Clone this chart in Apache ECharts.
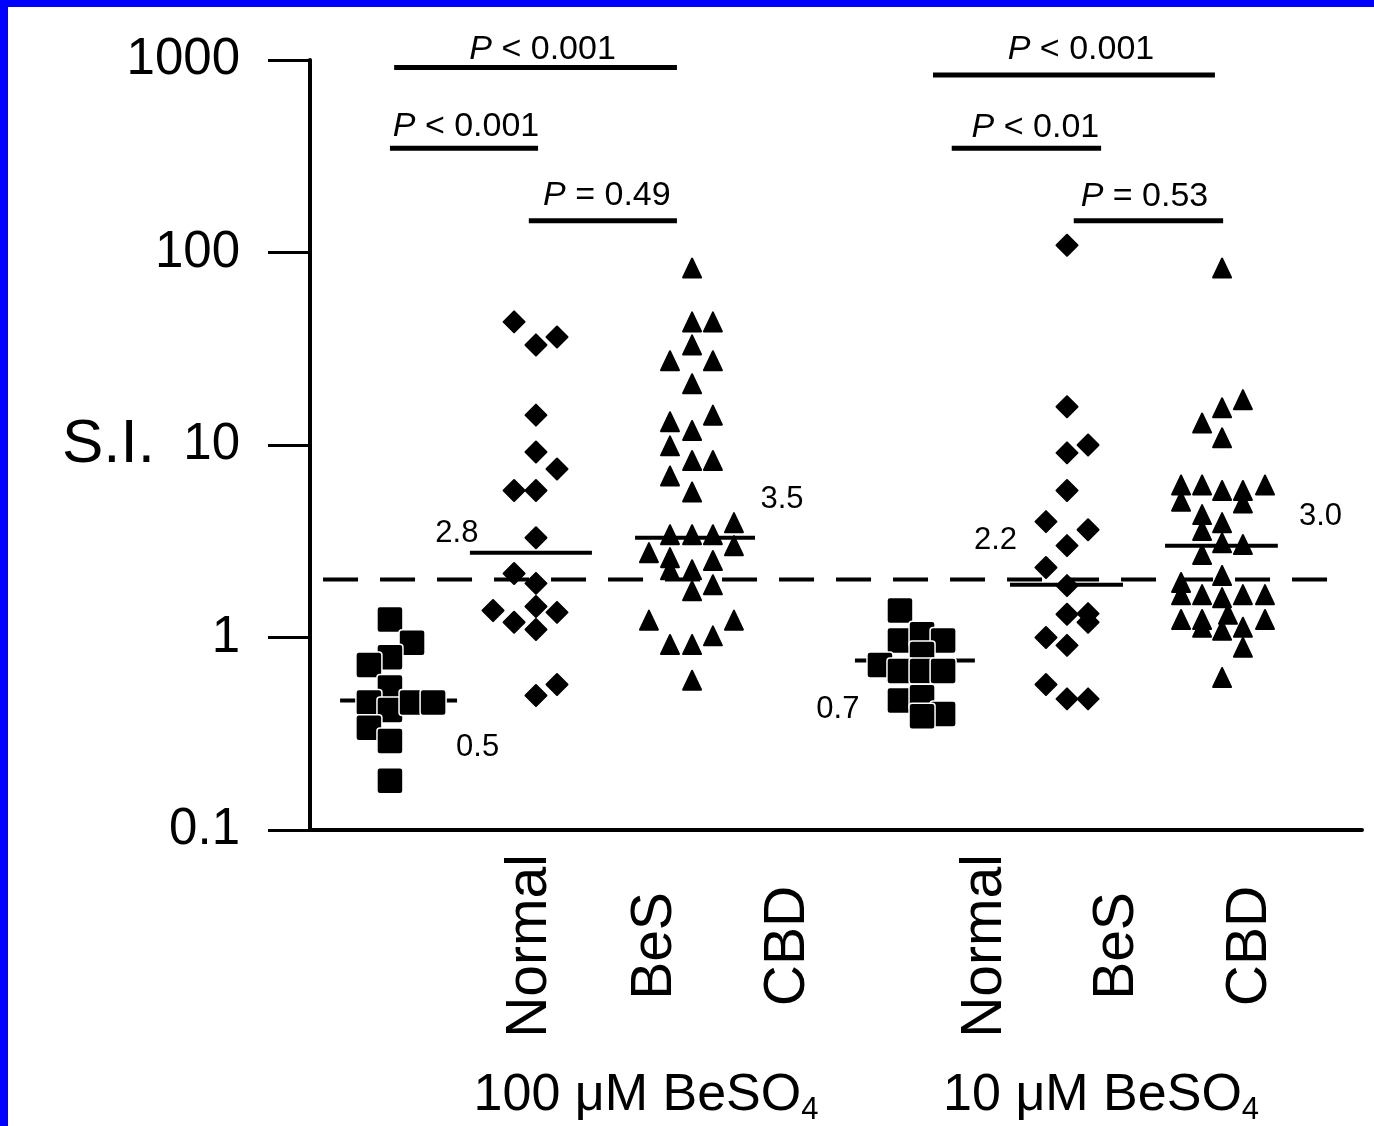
<!DOCTYPE html>
<html><head><meta charset="utf-8">
<script src="https://cdn.jsdelivr.net/npm/echarts@6/dist/echarts.min.js"></script>
<style>
html,body{margin:0;padding:0;background:#0000ff;width:1374px;height:1126px;overflow:hidden}
#c{position:absolute;left:8px;top:7px;width:1366px;height:1119px;background:#fff}
</style></head><body><div id="c"></div><script>
// ---------------- DATA ----------------
const categories = ['Normal', 'BeS', 'CBD', 'Normal', 'BeS', 'CBD'];
const concentrations = ['100 \u03bcM BeSO', '10 \u03bcM BeSO'];
const concentrationSub = '4';
const yTickLabels = ['0.1', '1', '10', '100', '1000'];
const yAxisName = 'S.I.';
const threshold = 2;

// [x jitter position, S.I.]
const normal100 = [[3.8,1.24],[4.85,0.94],[3.8,0.79],[2.8,0.72],[3.8,0.55],[2.8,0.46],[3.8,0.42],[4.85,0.46],[5.85,0.46],[2.8,0.34],[3.8,0.29],[3.8,0.18]];
const bes100 = [[9.7,43.6],[10.74,33.1],[11.74,36.4],[10.74,14.3],[10.74,9.2],[11.74,7.5],[9.7,5.8],[10.74,5.8],[10.74,3.3],[9.7,2.15],[10.74,1.91],[10.74,1.45],[8.7,1.38],[9.7,1.2],[10.74,1.1],[11.74,1.35],[11.74,0.57],[10.74,0.5]];
const cbd100 = [[18.16,83],[18.16,43.6],[19.15,43.6],[18.16,33.1],[17.11,27.4],[19.15,27.4],[18.16,20.8],[19.15,14.3],[17.11,13.2],[18.16,11.9],[17.11,9.9],[18.16,8.3],[19.15,8.3],[17.11,6.9],[18.16,5.7],[20.15,3.95],[17.11,3.42],[18.16,3.42],[19.15,3.42],[20.15,3.0],[16.11,2.76],[17.11,2.6],[19.15,2.51],[17.11,2.25],[18.16,2.25],[19.15,1.88],[18.16,1.75],[16.11,1.23],[20.15,1.23],[17.11,0.92],[18.16,0.92],[19.15,1.02],[18.16,0.6]];
const normal10 = [[28.04,1.38],[28.04,0.965],[29.09,1.04],[30.09,0.965],[29.09,0.82],[27.09,0.72],[28.04,0.67],[29.09,0.67],[30.09,0.67],[28.04,0.47],[29.09,0.49],[30.09,0.4],[29.09,0.39]];
const bes10 = [[35.98,109],[35.98,15.8],[35.98,9.1],[36.98,10.0],[35.98,5.8],[34.98,4.0],[36.98,3.63],[35.98,3.0],[34.98,2.31],[35.98,1.86],[35.98,1.32],[36.98,1.33],[36.98,1.2],[34.98,1.0],[35.98,0.91],[34.98,0.57],[35.98,0.48],[36.98,0.48]];
const cbd10 = [[43.35,83],[44.34,17.2],[43.35,15.6],[42.4,13.0],[43.35,10.9],[41.4,6.2],[42.4,6.2],[43.35,5.8],[44.34,5.8],[45.39,6.2],[41.4,5.1],[44.34,5.0],[42.4,4.35],[43.35,3.95],[42.4,3.6],[43.35,3.11],[44.34,3.04],[42.4,2.7],[43.35,2.1],[41.4,1.93],[41.4,1.67],[42.4,1.67],[43.35,1.61],[44.34,1.67],[45.39,1.67],[41.4,1.24],[42.4,1.24],[42.4,1.13],[43.63,1.32],[44.34,1.13],[45.39,1.24],[43.35,1.09],[44.34,0.89],[43.35,0.62]];

const medians = [0.471, 2.76, 3.30, 0.76, 1.88, 3.00];
const medianLabels = ['0.5', '2.8', '3.5', '0.7', '2.2', '3.0'];

const pTexts = ['< 0.001', '< 0.001', '= 0.49', '< 0.001', '< 0.01', '= 0.53'];
const pLevels = [914, 348, 146, 836, 348, 146];

// ---------------- LAYOUT ----------------
const X_MAX = 50;
const groupSpans = [[1.43,6.99],[7.6,13.4],[15.45,21.15],[25.9,31.6],[33.27,38.64],[40.64,46.0]];
const medianLabelOffsets = [[79,47],[-74,-19],[87,-38],[-77,49],[-71,-44],[99,-29]];
const pSpans = [[4.0,17.44],[3.8,10.84],[10.4,17.44],[29.61,43.01],[30.5,37.6],[36.3,43.4]];
const pOffsets = [[7,-18],[2,-22],[4,-25],[7,-25],[9,-21],[-4,-24]];
const catLabelX = [10.46, 16.40, 22.72, 32.08, 38.36, 44.68];
const concLabelX = [15.97, 37.6];
const thresholdSpan = [0.62, 48.34];

const FONT = '"Liberation Sans", Arial, Helvetica, sans-serif';
const squarePath = 'path://M3,0H23Q26,0 26,3V23Q26,26 23,26H3Q0,26 0,23V3Q0,0 3,0Z';

function nearestIdx(arr, v) { let b = 0; arr.forEach((a, i) => { if (Math.abs(a - v) < Math.abs(arr[b] - v)) b = i; }); return b; }

const series = [];
// threshold dashed line
series.push({ type: 'line', silent: true, symbol: 'none', z: 1,
  data: [[thresholdSpan[0], threshold], [thresholdSpan[1], threshold]],
  lineStyle: { color: '#000', width: 4, type: [35, 22], opacity: 1 } });
// median lines
medians.forEach((m, i) => {
  series.push({ type: 'line', silent: true, symbol: 'none', z: 2,
    data: [[groupSpans[i][0], m], [groupSpans[i][1], m]],
    lineStyle: { color: '#000', width: 4, opacity: 1 } });
});
// significance bars
pLevels.forEach((lv, i) => {
  series.push({ type: 'line', silent: true, symbol: 'none', z: 2,
    data: [[pSpans[i][0], lv], [pSpans[i][1], lv]],
    lineStyle: { color: '#000', width: 5, opacity: 1 } });
});
// scatter groups
const groups = [normal100, bes100, cbd100, normal10, bes10, cbd10];
const shapes = ['sq', 'dia', 'tri', 'sq', 'dia', 'tri'];
groups.forEach((g, i) => {
  const s = shapes[i];
  series.push({ type: 'scatter', z: 5, data: g,
    symbol: s === 'sq' ? squarePath : (s === 'dia' ? 'diamond' : 'triangle'),
    symbolSize: s === 'sq' ? 26 : (s === 'dia' ? 21 : [18, 19]),
    itemStyle: s === 'sq'
      ? { color: '#000', opacity: 1, borderColor: '#fff', borderWidth: 1.5 }
      : { color: '#000', opacity: 1, borderColor: '#000', borderWidth: 2, borderJoin: 'round' } });
});
// median value labels
series.push({ type: 'scatter', z: 6, symbolSize: 0, silent: true,
  itemStyle: { opacity: 1 },
  data: medians.map((m, i) => ({ value: [(groupSpans[i][0] + groupSpans[i][1]) / 2, m],
    label: { offset: medianLabelOffsets[i], formatter: medianLabels[i] } })),
  label: { show: true, position: 'inside', color: '#000', opacity: 1, fontFamily: FONT, fontSize: 31 } });
// p-value labels
series.push({ type: 'scatter', z: 6, symbolSize: 0, silent: true,
  itemStyle: { opacity: 1 },
  data: pLevels.map((lv, i) => ({ value: [(pSpans[i][0] + pSpans[i][1]) / 2, lv],
    label: { offset: pOffsets[i], formatter: '{i|P}{t| ' + pTexts[i] + '}' } })),
  label: { show: true, position: 'inside', color: '#000', opacity: 1,
    rich: { i: { fontFamily: FONT, fontSize: 34, fontStyle: 'italic', color: '#000' },
            t: { fontFamily: FONT, fontSize: 34, color: '#000' } } } });

const chart = echarts.init(document.getElementById('c'));
chart.setOption({
  animation: false,
  backgroundColor: '#fff',
  grid: { left: 302, right: 12, top: 53, bottom: 293 },
  xAxis: [{
    type: 'value', min: 0, max: X_MAX, position: 'bottom',
    axisLine: { onZero: false, lineStyle: { color: '#000', width: 4 } },
    axisTick: { show: false }, splitLine: { show: false },
    axisLabel: { customValues: catLabelX, rotate: 90, align: 'center', verticalAlign: 'middle',
      margin: 116, fontFamily: FONT, fontSize: 57, color: '#000',
      formatter: (v) => categories[nearestIdx(catLabelX, v)] }
  }, {
    type: 'value', min: 0, max: X_MAX, position: 'bottom',
    axisLine: { show: false, onZero: false }, axisTick: { show: false }, splitLine: { show: false },
    axisLabel: { customValues: concLabelX, margin: 236, verticalAlign: 'top', color: '#000',
      formatter: (v) => '{n|' + concentrations[nearestIdx(concLabelX, v)] + '}{s|' + concentrationSub + '}',
      rich: { n: { fontFamily: FONT, fontSize: 52, lineHeight: 60, color: '#000' },
              s: { fontFamily: FONT, fontSize: 31, lineHeight: 31, verticalAlign: 'bottom', color: '#000' } } }
  }],
  yAxis: {
    type: 'log', logBase: 10, min: 0.1, max: 1000,
    name: yAxisName, nameLocation: 'middle', nameRotate: 0, nameGap: 155, nameMoveOverlap: false,
    nameTextStyle: { fontFamily: FONT, fontSize: 62, color: '#000', align: 'right', verticalAlign: 'middle', padding: [0, 0, 12, 0] },
    axisLine: { onZero: false, lineStyle: { color: '#000', width: 4 } },
    axisTick: { length: 42, lineStyle: { color: '#000', width: 3 } },
    minorTick: { show: false }, splitLine: { show: false },
    axisLabel: { margin: 70, fontFamily: FONT, fontSize: 51, color: '#000',
      formatter: (v) => { const k = Math.round(Math.log10(v)) + 1; return yTickLabels[k] !== undefined ? yTickLabels[k] : String(v); } }
  },
  series: series
});
</script></body></html>
